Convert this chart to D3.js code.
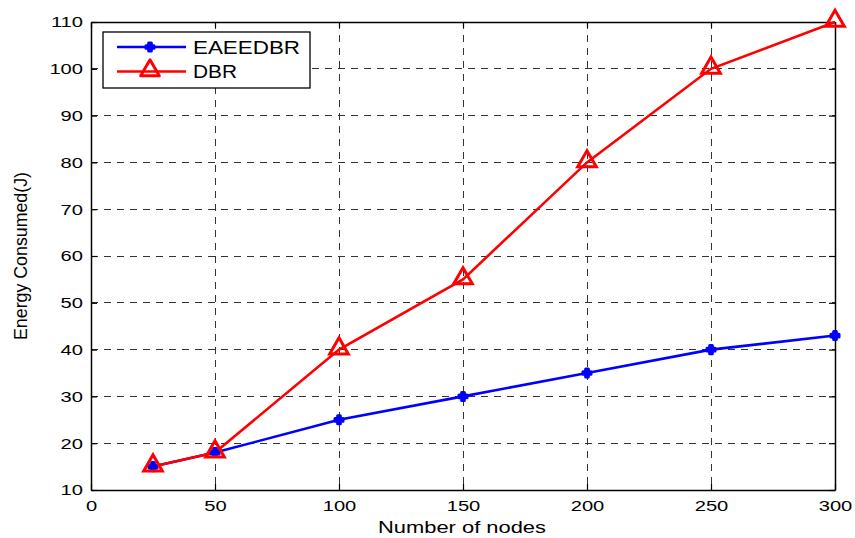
<!DOCTYPE html>
<html>
<head>
<meta charset="utf-8">
<script src="https://cdn.jsdelivr.net/npm/d3@7"></script>
<style>
  body { margin: 0; background: #fff; }
  text { font-family: "Liberation Sans", Arial, sans-serif; }
</style>
</head>
<body>
<div id="graph"></div>
<script>
// chart data
const nodes = [25, 50, 100, 150, 200, 250, 300];
const eaeedbr = [15, 18, 25, 30, 35, 40, 43];
const dbr = [15, 18, 40, 55, 80, 100, 110];
const xTicks = [0, 50, 100, 150, 200, 250, 300];
const yTicks = [10, 20, 30, 40, 50, 60, 70, 80, 90, 100, 110];
const seriesNames = ["EAEEDBR", "DBR"];

const width = 855, height = 538;
const margin = {left: 91, right: 20, top: 22, bottom: 48};
const pw = width - margin.left - margin.right;
const ph = height - margin.top - margin.bottom;
const stretch = 1.3; // the matlab export has wide glyphs

const svg = d3.select("#graph").append("svg")
    .attr("width", width).attr("height", height)
    .style("background", "white");

const g = svg.append("g").attr("transform", `translate(${margin.left},${margin.top})`);

const xScale = d3.scaleLinear().domain([0, 300]).range([0, pw]);
const yScale = d3.scaleLinear().domain([10, 110]).range([ph, 0]);

// grid
g.append("g").selectAll("line").data(xTicks.slice(1, -1)).enter().append("line")
    .attr("x1", d => xScale(d)).attr("x2", d => xScale(d))
    .attr("y1", 0).attr("y2", ph)
    .attr("stroke", "#333").attr("stroke-width", 1).attr("stroke-dasharray", "7,6")
    .attr("shape-rendering", "crispEdges");
g.append("g").selectAll("line").data(yTicks.slice(1, -1)).enter().append("line")
    .attr("y1", d => yScale(d)).attr("y2", d => yScale(d))
    .attr("x1", 0).attr("x2", pw)
    .attr("stroke", "#333").attr("stroke-width", 1).attr("stroke-dasharray", "7,6")
    .attr("shape-rendering", "crispEdges");

// axes (inward ticks like matlab)
const xAxis = d3.axisBottom(xScale).tickValues(xTicks).tickSizeInner(-6).tickSizeOuter(0).tickPadding(10);
const yAxis = d3.axisLeft(yScale).tickValues(yTicks).tickSizeInner(-6).tickSizeOuter(0).tickPadding(8);
const xa = g.append("g").attr("transform", `translate(0,${ph})`).call(xAxis);
const ya = g.append("g").call(yAxis);
g.append("g").attr("transform", `translate(0,0)`)
    .call(d3.axisTop(xScale).tickValues(xTicks).tickSizeInner(-6).tickSizeOuter(0).tickFormat(""));
g.append("g").attr("transform", `translate(${pw},0)`)
    .call(d3.axisRight(yScale).tickValues(yTicks).tickSizeInner(-6).tickSizeOuter(0).tickFormat(""));
g.selectAll(".domain").attr("stroke", "#000").attr("stroke-width", 1.5);
g.selectAll(".tick line").attr("stroke", "#000").attr("stroke-width", 1.2);
[xa, ya].forEach(a => a.selectAll("text")
    .style("font-family", "'Liberation Sans', Arial, sans-serif")
    .style("font-size", "15.5px").attr("fill", "#000")
    .attr("transform", `scale(${stretch},1)`));
ya.selectAll("text").attr("x", -8 / stretch);

// lines
const line = d3.line().x((d, i) => xScale(nodes[i])).y(d => yScale(d));

g.append("path").datum(eaeedbr).attr("d", line)
    .attr("fill", "none").attr("stroke", "#0000ff").attr("stroke-width", 2.6);
g.append("path").datum(dbr).attr("d", line)
    .attr("fill", "none").attr("stroke", "#ff0000").attr("stroke-width", 2.6);

const star = d3.symbol().type(d3.symbolCross).size(36);
const tri = d3.symbol().type(d3.symbolTriangle).size(150);

g.append("g").selectAll("path").data(eaeedbr).enter().append("path")
    .attr("d", star)
    .attr("transform", (d, i) => `translate(${xScale(nodes[i])},${yScale(d)})`)
    .attr("fill", "#0000ff").attr("stroke", "#0000ff").attr("stroke-width", 3).attr("stroke-linejoin", "round");
g.append("g").selectAll("path").data(dbr).enter().append("path")
    .attr("d", tri)
    .attr("transform", (d, i) => `translate(${xScale(nodes[i])},${yScale(d) - 1})`)
    .attr("fill", "none").attr("stroke", "#ff0000").attr("stroke-width", 3);

// legend
const lg = svg.append("g").attr("transform", "translate(103,32)");
lg.append("rect").attr("width", 207).attr("height", 56)
    .attr("fill", "white").attr("stroke", "#000").attr("stroke-width", 1.3);
const lgColors = ["#0000ff", "#ff0000"];
const lgWidths = [107, 44];
seriesNames.forEach((name, i) => {
    const yy = 15 + i * 24.5;
    lg.append("line").attr("x1", 14).attr("x2", 83).attr("y1", yy).attr("y2", yy)
        .attr("stroke", lgColors[i]).attr("stroke-width", 2.6);
    lg.append("path").attr("d", i === 0 ? star : tri)
        .attr("transform", `translate(47,${yy - (i ? 1 : 0)})`)
        .attr("fill", i === 0 ? "#0000ff" : "none")
        .attr("stroke", lgColors[i]).attr("stroke-width", 3).attr("stroke-linejoin", "round");
    lg.append("text").attr("x", 90).attr("y", yy + 6.5)
        .attr("textLength", lgWidths[i]).attr("lengthAdjust", "spacingAndGlyphs")
        .style("font-size", "18px").text(name);
});

// axis titles
svg.append("text")
    .attr("x", 378).attr("y", 533)
    .attr("textLength", 168).attr("lengthAdjust", "spacingAndGlyphs")
    .style("font-size", "16.5px")
    .text("Number of nodes");

svg.append("text")
    .attr("transform", "translate(27,340) rotate(-90)")
    .attr("textLength", 168).attr("lengthAdjust", "spacingAndGlyphs")
    .style("font-size", "18px")
    .text("Energy Consumed(J)");
</script>
</body>
</html>
